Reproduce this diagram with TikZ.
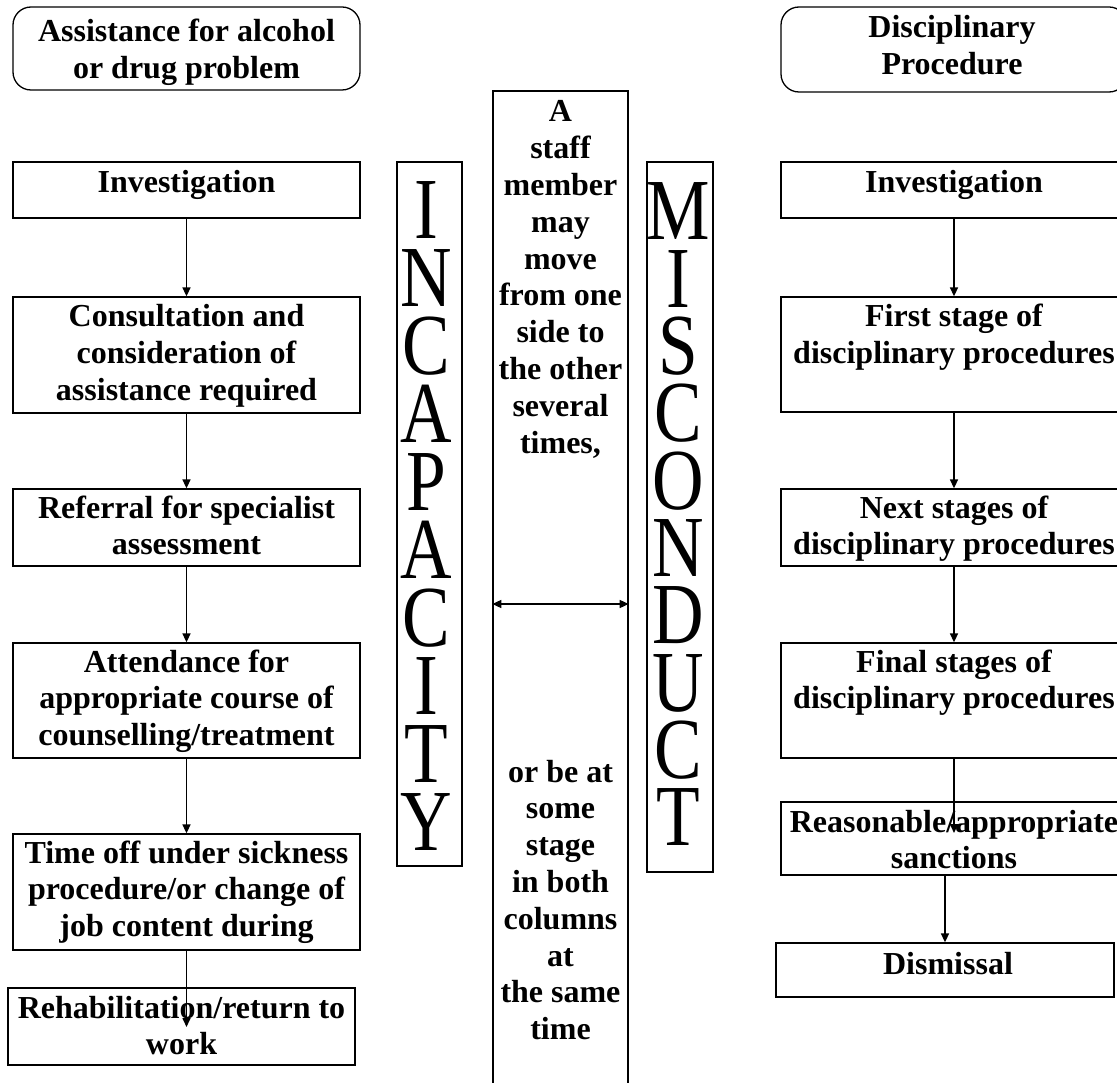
\documentclass[tikz,border=0pt]{standalone}
\usepackage{fontspec}
\usepackage{graphicx}
\setmainfont{Liberation Serif}
\usetikzlibrary{arrows.meta}
\begin{document}
\begin{tikzpicture}[x=1pt,y=-1pt,
  box/.style={draw, line width=1.3pt, rectangle, inner sep=0pt},
  term/.style={box, rounded corners=18pt},
  txt/.style={font=\fontsize{32}{36.8}\selectfont\bfseries, align=flush center, text width=#1, inner sep=0pt, anchor=base},
  txt/.default=345pt,
  arr/.style={line width=1.6pt, -{Triangle[length=9pt,width=8pt]}},
  darr/.style={line width=1.6pt, {Triangle[length=9pt,width=8pt]}-{Triangle[length=9pt,width=8pt]}},
  big/.style={font=\fontsize{87}{#1}\selectfont, align=flush center, text width=80pt, inner sep=0pt, anchor=base, xscale=0.82, transform shape}]
\useasboundingbox (0,0) rectangle (1117,1083);
\fill[white] (0,0) rectangle (1117,1083);
\clip (0,0) rectangle (1117,1083);

% ---------- left column ----------
\node[term, minimum width=347pt, minimum height=83pt] (termL) at (186.5,48.5) {};
\node[txt] (termLt) at (186.5,42) {Assistance for alcohol\\or drug problem};

\node[box, minimum width=347pt, minimum height=56pt] (inv) at (186.5,190) {};
\node[txt] (invt) at (186.5,193) {Investigation};

\node[box, minimum width=347pt, minimum height=116pt] (cons) at (186.5,355) {};
\node[txt] (const) at (186.5,327) {Consultation and\\consideration of\\assistance required};

\node[box, minimum width=347pt, minimum height=77pt] (ref) at (186.5,527.5) {};
\node[txt] (reft) at (186.5,518) {Referral for specialist\\assessment};

\node[box, minimum width=347pt, minimum height=115pt] (att) at (186.5,700.5) {};
\node[txt] (attt) at (186.5,672) {Attendance for\\appropriate course of\\counselling/treatment};

\node[box, minimum width=347pt, minimum height=116pt] (toff) at (186.5,892) {};
\node[txt] (tofft) at (186.5,863) {Time off under sickness\\procedure/or change of\\job content during};

\node[box, minimum width=347pt, minimum height=77pt] (rehab) at (181.5,1026.5) {};
\node[txt] (rehabt) at (181.5,1018) {Rehabilitation/return to\\work};

\coordinate (rehabend) at (186.5,1027);

\draw[arr] (inv) -- (cons);
\draw[arr] (cons) -- (ref);
\draw[arr] (ref) -- (att);
\draw[arr] (att) -- (toff);
\draw[arr] (toff.south) -- (rehabend);

% ---------- middle ----------
\node[box, minimum width=65pt, minimum height=704pt] (incap) at (429.5,514) {};
\node[big=67.9pt] (incapt) at (426,239) {I\\N\\C\\A\\P\\A\\C\\I\\T\\Y};

\node[box, minimum width=135pt, minimum height=1009pt] (mid) at (560.5,595.5) {};
\node[txt=135pt] (midtop) at (560.5,122) {A\\staff\\member\\may\\move\\from one\\side to\\the other\\several\\times,};
\node[txt=135pt] (midbot) at (560.5,782) {or be at\\some\\stage\\in both\\columns\\at\\the same\\time};
\coordinate (arrrow) at (0,604);
\draw[darr] (mid.west |- arrrow) -- (mid.east |- arrrow);

\node[box, minimum width=66pt, minimum height=710pt] (misc) at (680,517) {};
\node[big=67.3pt] (misct) at (678,240) {M\\I\\S\\C\\O\\N\\D\\U\\C\\T};

% ---------- right column ----------
\node[term, minimum width=346pt, minimum height=85pt] (termR) at (954,49.5) {};
\node[txt] (termRt) at (952,38) {Disciplinary\\Procedure};

\node[box, minimum width=346pt, minimum height=56pt] (rinv) at (954,190) {};
\node[txt] (rinvt) at (954,193) {Investigation};

\node[box, minimum width=346pt, minimum height=115pt] (first) at (954,354.5) {};
\node[txt] (firstt) at (954,327) {First stage of\\disciplinary procedures};

\node[box, minimum width=346pt, minimum height=77pt] (next) at (954,527.5) {};
\node[txt] (nextt) at (954,518) {Next stages of\\disciplinary procedures};

\node[box, minimum width=346pt, minimum height=115pt] (final) at (954,700.5) {};
\node[txt] (finalt) at (954,672) {Final stages of\\disciplinary procedures};

\node[box, minimum width=346pt, minimum height=73pt] (reas) at (954,838.5) {};
\node[txt] (reast) at (954,832) {Reasonable/appropriate\\sanctions};

\node[box, minimum width=338pt, minimum height=54pt] (dism) at (945,970) {};
\node[txt] (dismt) at (948,974) {Dismissal};

\coordinate (reasend) at (954,833);

\draw[arr] (rinv) -- (first);
\draw[arr] (first) -- (next);
\draw[arr] (next) -- (final);
\draw[arr] (final.south) -- (reasend);
\draw[arr] (reas.south -| dism.north) -- (dism.north);
\end{tikzpicture}
\end{document}
